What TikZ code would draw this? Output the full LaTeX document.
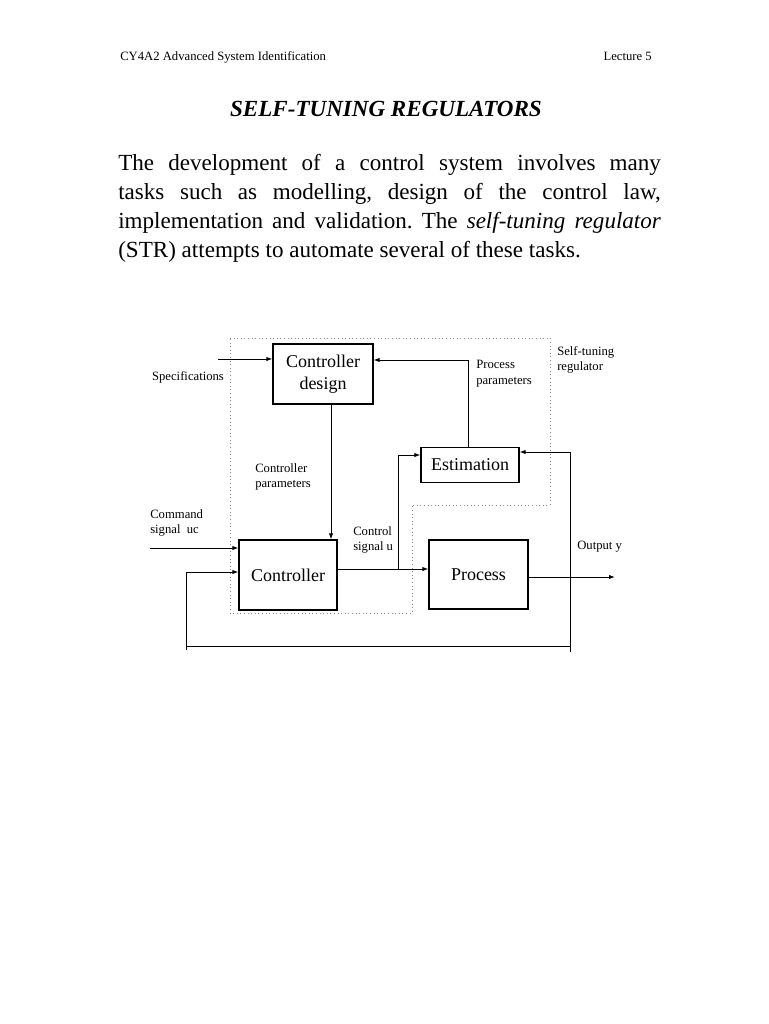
\documentclass[tikz,border=0pt]{standalone}
\usepackage{fontspec}
\setmainfont{Liberation Serif}
\usetikzlibrary{arrows.meta,positioning}
\tikzset{
  blk/.style={
    rectangle,
    draw,
    line width=0.8pt,
    font=\fontsize{13.5}{16.5}\selectfont,
    align=center,
    inner sep=0pt,
  },
  sig/.style={-{Latex[length=4.5pt,width=3.2pt]}, line width=0.7pt},
  wire/.style={line width=0.7pt},
  lbl/.style={font=\fontsize{9.5}{11.6}\selectfont, align=left, inner sep=0pt},
  region/.style={draw=black!45, dotted, line width=0.7pt},
}
\frenchspacing

\begin{document}
\begin{tikzpicture}[x=0.75pt,y=-0.75pt]
  \fill[white] (0,0) rectangle (768,1024);
  \useasboundingbox (0,0) rectangle (768,1024);

  % page header and text
  \node[anchor=base west, inner sep=0pt, font=\fontsize{9.5}{11}\selectfont] (hdl) at (120,61) {CY4A2 Advanced System Identification};
  \node[anchor=base east, inner sep=0pt, font=\fontsize{9.5}{11}\selectfont] (hdr) at (652,61) {Lecture 5};
  \node[anchor=base, inner sep=0pt, font=\fontsize{17.3}{20}\selectfont\bfseries\itshape] (title) at (386,116) {SELF-TUNING REGULATORS};
  \node[anchor=north west, inner sep=0pt, text width=407pt, align=justify,
        font=\fontsize{17.3}{21.75}\selectfont] (intro) at (118,154)
    {The development of a control system involves many\linebreak
     tasks such as modelling, design of the control law,\linebreak
     implementation and validation. The \textit{self-tuning regulator}\linebreak
     (STR) attempts to automate several of these tasks.};

  % self-tuning regulator region
  \draw[region] (230,338) -- (550,338) -- (550,505) -- (412,505) -- (412,613) -- (230,613) -- cycle;

  % blocks
  \node[blk, minimum width=75pt, minimum height=45pt] (cdesign) at (323,374) {Controller\\design};
  \node[blk, minimum width=73.5pt, minimum height=26.25pt] (estim) at (470,465) {Estimation};
  \node[blk, minimum width=73.5pt, minimum height=52.5pt] (ctrl) at (288,575) {Controller};
  \node[blk, minimum width=74.25pt, minimum height=51.75pt] (proc) at (478.5,574.5) {Process};

  % labels
  \node[lbl] (spec) at (188,377) {Specifications};
  \node[lbl, anchor=north west] (ppar) at (476,360) {Process\\parameters};
  \node[lbl, anchor=north west] (str) at (557,346) {Self-tuning\\regulator};
  \node[lbl, anchor=north west] (cpar) at (255,463) {Controller\\parameters};
  \node[lbl, anchor=north west] (cmd) at (150,509) {Command\\signal\ \ uc};
  \node[lbl, anchor=north west] (csig) at (353,526) {Control\\signal u};
  \node[lbl, anchor=north west] (outy) at (577,541) {Output y};

  % points
  \coordinate (specin) at (218,359);
  \coordinate (pp) at (468,360);
  \coordinate (cp) at (331,0);
  \coordinate (ubr) at (398,569);
  \coordinate (est) at (0,455);
  \coordinate (ucin) at (150,548);
  \coordinate (yout) at (615,577);
  \coordinate (ybr) at (570,577);
  \coordinate (fbr) at (570,646);
  \coordinate (fbl) at (186,646);
  \coordinate (fbin) at (0,572);

  % connectors
  \draw[sig] (specin) -- (cdesign.west |- specin);
  \draw[sig] (estim.north -| pp) |- (cdesign.east |- pp);
  \draw[sig] (cdesign.south -| cp) -- (ctrl.north -| cp);
  \draw[sig] (ctrl.east |- ubr) -- (proc.west |- ubr);
  \draw[sig] (ubr) |- (estim.west |- est);
  \draw[sig] (ucin) -- (ctrl.west |- ucin);
  \draw[sig] (proc.east |- yout) -- (yout);
  \draw[sig] ([yshift=-4.5pt]fbr) |- (estim.east |- 0,452);
  \draw[wire] (fbr) -- (fbl) -- ([yshift=-3pt]fbl);
  \draw[sig] (fbl) |- (ctrl.west |- fbin);
\end{tikzpicture}
\end{document}
